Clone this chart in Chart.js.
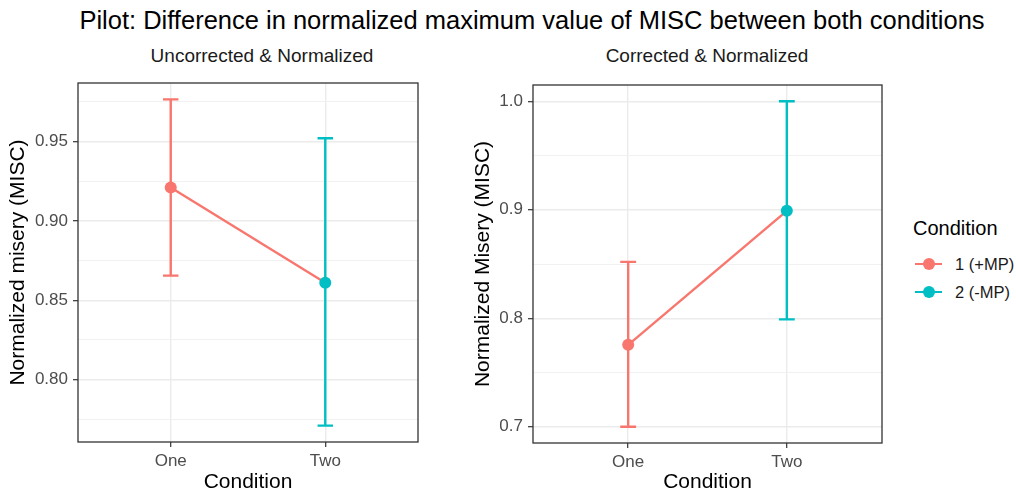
<!DOCTYPE html>
<html>
<head>
<meta charset="utf-8">
<title>Pilot: MISC by condition</title>
<script src="https://cdn.jsdelivr.net/npm/chart.js@4.4.1/dist/chart.umd.min.js"></script>
<style>
  html, body { margin: 0; padding: 0; background: #fff; }
  body {
    width: 1016px; height: 495px; position: relative; overflow: hidden;
    font-family: 'Liberation Sans', Arial, sans-serif;
  }
  #main-title {
    position: absolute; left: 32px; top: 5px; width: 1000px;
    text-align: center; white-space: nowrap;
    font-size: 25.5px; line-height: 30px; color: #000;
  }
  .subtitle {
    position: absolute; top: 44px; width: 400px;
    text-align: center; white-space: nowrap;
    font-size: 19px; line-height: 24px; color: #1a1a1a;
  }
  #sub-uncorrected { left: 62px; }
  #sub-corrected { left: 507px; }
  canvas { position: absolute; top: 38px; }
  #chart-uncorrected { left: 0; }
  #chart-corrected { left: 465px; }
  #legend { position: absolute; left: 913px; top: 216px; }
  #legend .legend-title { font-size: 20px; line-height: 24px; color: #000; margin-bottom: 14px; }
  #legend .legend-item { position: relative; height: 28px; }
  #legend .key-line { position: absolute; left: 2px; top: 9px; width: 27px; height: 2px; }
  #legend .key-dot { position: absolute; left: 9.5px; top: 4px; width: 12px; height: 12px; border-radius: 50%; }
  #legend .key-label { position: absolute; left: 42px; top: 0; font-size: 16.5px; line-height: 20px; color: #1a1a1a; white-space: nowrap; }
</style>
</head>
<body>
<div id="main-title">Pilot: Difference in normalized maximum value of MISC between both conditions</div>
<div class="subtitle" id="sub-uncorrected">Uncorrected &amp; Normalized</div>
<div class="subtitle" id="sub-corrected">Corrected &amp; Normalized</div>
<canvas id="chart-uncorrected" width="430" height="457"></canvas>
<canvas id="chart-corrected" width="430" height="457"></canvas>
<div id="legend"></div>

<script>
  // ========================================
  // Data
  // ========================================

  const conditions = ['One', 'Two'];
  const groupLabels = ['1 (+MP)', '2 (-MP)'];
  const groupColors = ['#F8766D', '#00BFC4'];

  // Uncorrected & Normalized
  const uncorrMean = [0.921, 0.861];
  const uncorrLow = [0.8655, 0.771];
  const uncorrHigh = [0.9765, 0.952];
  const uncorrMajorTicks = [0.80, 0.85, 0.90, 0.95];
  const uncorrMinorTicks = [0.775, 0.825, 0.875, 0.925, 0.975];

  // Corrected & Normalized
  const corrMean = [0.7755, 0.899];
  const corrLow = [0.700, 0.799];
  const corrHigh = [0.852, 1.000];
  const corrMajorTicks = [0.7, 0.8, 0.9, 1.0];
  const corrMinorTicks = [0.75, 0.85, 0.95];

  const capWidth = 0.1; // error bar cap width, in x units

  Chart.defaults.font.family = "'Liberation Sans', Arial, sans-serif";
  Chart.defaults.devicePixelRatio = 1;

  // ========================================
  // Plugins
  // ========================================

  function errorBarPlugin(low, high) {
    return {
      id: 'errorBars',
      beforeDatasetsDraw(chart) {
        const xs = chart.scales.x;
        const ys = chart.scales.y;
        const c = chart.ctx;
        c.save();
        c.lineWidth = 2.4;
        low.forEach((lo, i) => {
          const px = xs.getPixelForValue(i + 1);
          const x0 = xs.getPixelForValue(i + 1 - capWidth / 2);
          const x1 = xs.getPixelForValue(i + 1 + capWidth / 2);
          const yLo = ys.getPixelForValue(lo);
          const yHi = ys.getPixelForValue(high[i]);
          c.strokeStyle = groupColors[i];
          c.beginPath();
          c.moveTo(px, yLo); c.lineTo(px, yHi);
          c.moveTo(x0, yLo); c.lineTo(x1, yLo);
          c.moveTo(x0, yHi); c.lineTo(x1, yHi);
          c.stroke();
        });
        c.restore();
      }
    };
  }

  const panelBorder = {
    id: 'panelBorder',
    afterDraw(chart) {
      const a = chart.chartArea;
      const c = chart.ctx;
      c.save();
      c.strokeStyle = '#333333';
      c.lineWidth = 1.3;
      c.strokeRect(a.left, a.top, a.right - a.left, a.bottom - a.top);
      c.restore();
    }
  };

  // ========================================
  // Panels
  // ========================================

  function makePanel(canvasId, cfg) {
    const isMajor = (ctx) => ctx.tick && cfg.major.includes(ctx.tick.value);
    const ctx = document.getElementById(canvasId).getContext('2d');

    return new Chart(ctx, {
      type: 'line',
      data: {
        datasets: [{
          data: cfg.mean.map((v, i) => ({ x: i + 1, y: v })),
          borderColor: groupColors[0],
          borderWidth: 2.4,
          tension: 0,
          pointRadius: 6,
          pointBorderWidth: 0,
          pointBackgroundColor: groupColors,
          pointBorderColor: groupColors
        }]
      },
      options: {
        responsive: false,
        animation: false,
        events: [],
        layout: { padding: { left: 0, right: cfg.padRight, top: cfg.areaTop, bottom: 0 } },
        plugins: {
          legend: { display: false },
          tooltip: { enabled: false },
          title: { display: false }
        },
        scales: {
          x: {
            type: 'linear',
            min: 0.4,
            max: 2.6,
            afterBuildTicks: (s) => { s.ticks = conditions.map((_, i) => ({ value: i + 1 })); },
            afterFit: (s) => { s.height = cfg.xAxisHeight; },
            ticks: {
              callback: (v) => conditions[v - 1],
              color: '#4D4D4D',
              font: { size: 17 },
              padding: 4,
              autoSkip: false,
              maxRotation: 0
            },
            grid: {
              color: '#EBEBEB',
              lineWidth: 1.4,
              tickColor: '#333333',
              tickLength: 5,
              tickWidth: 1.2
            },
            border: { display: false },
            title: {
              display: true,
              text: 'Condition',
              color: '#000',
              font: { size: 21 },
              padding: { top: 0, bottom: 0 }
            }
          },
          y: {
            min: cfg.yMin,
            max: cfg.yMax,
            afterBuildTicks: (s) => {
              s.ticks = cfg.major.concat(cfg.minor).sort((a, b) => a - b).map(v => ({ value: v }));
            },
            afterFit: (s) => { s.width = cfg.yAxisWidth; },
            ticks: {
              callback: (v) => cfg.major.includes(v) ? v.toFixed(cfg.decimals) : '',
              color: '#4D4D4D',
              font: { size: 17 },
              padding: 5,
              autoSkip: false
            },
            grid: {
              color: (c) => isMajor(c) ? '#EBEBEB' : '#F1F1F1',
              lineWidth: (c) => isMajor(c) ? 1.4 : 1,
              tickColor: (c) => isMajor(c) ? '#333333' : 'rgba(0,0,0,0)',
              tickLength: 5,
              tickWidth: 1.2
            },
            border: { display: false },
            title: {
              display: true,
              text: cfg.yTitle,
              color: '#000',
              font: { size: 21 },
              padding: { top: 5.4, bottom: 0 }
            }
          }
        }
      },
      plugins: [errorBarPlugin(cfg.low, cfg.high), panelBorder]
    });
  }

  makePanel('chart-uncorrected', {
    yTitle: 'Normalized misery (MISC)',
    mean: uncorrMean, low: uncorrLow, high: uncorrHigh,
    major: uncorrMajorTicks, minor: uncorrMinorTicks, decimals: 2,
    yMin: 0.7607, yMax: 0.9868,
    yAxisWidth: 78, xAxisHeight: 53, areaTop: 45, padRight: 12
  });

  makePanel('chart-corrected', {
    yTitle: 'Normalized Misery (MISC)',
    mean: corrMean, low: corrLow, high: corrHigh,
    major: corrMajorTicks, minor: corrMinorTicks, decimals: 1,
    yMin: 0.685, yMax: 1.015,
    yAxisWidth: 68, xAxisHeight: 52, areaTop: 47, padRight: 13
  });

  // ========================================
  // Legend
  // ========================================

  const legend = document.getElementById('legend');
  legend.innerHTML = '<div class="legend-title">Condition</div>' +
    groupLabels.map((label, i) =>
      '<div class="legend-item">' +
        '<div class="key-line" style="background:' + groupColors[i] + '"></div>' +
        '<div class="key-dot" style="background:' + groupColors[i] + '"></div>' +
        '<div class="key-label">' + label + '</div>' +
      '</div>'
    ).join('');
</script>
</body>
</html>
